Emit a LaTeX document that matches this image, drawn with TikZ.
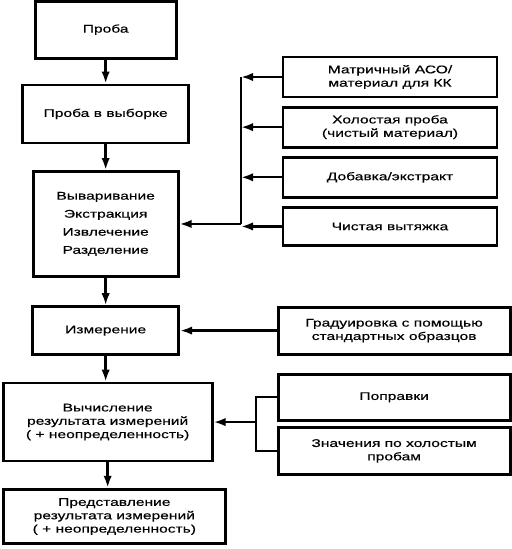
\documentclass[tikz,border=0pt]{standalone}
\usepackage{fontspec}
\setmainfont{Liberation Sans}[FakeStretch=1.4, FakeBold=0.4]
\usetikzlibrary{arrows.meta,positioning}
\tikzset{>={Latex[length=3.6mm,width=2.5mm]}}

\begin{document}
\begin{tikzpicture}[
    box/.style={draw, line width=2.4pt, align=center, inner sep=1pt},
    sidebox/.style={box, minimum width=6.42cm, minimum height=1.2cm},
    every node/.style={font=\fontsize{9.5}{11.4}\selectfont},
    link/.style={line width=2pt},
    node distance=8mm
  ]
    \useasboundingbox (0,0) rectangle (15.36,-16.47);
    % main chain
    \node[box, minimum width=4.23cm, minimum height=1.71cm] (sample) at (3.17,-0.89) {Проба};
    \node[box, minimum width=4.98cm, minimum height=1.74cm, below=7.2mm of sample] (subsample) {Проба в выборке};
    \node[box, minimum width=4.35cm, minimum height=3.15cm, below=7.7mm of subsample] (prep) {Вываривание\\[4pt]Экстракция\\[4pt]Извлечение\\[4pt]Разделение};
    \node[box, minimum width=4.38cm, minimum height=1.44cm, below=8.2mm of prep] (meas) {Измерение};
    \node[box, minimum width=6.27cm, minimum height=2.34cm, below=7.7mm of meas, xshift=0.06cm] (calc) {Вычисление\\результата измерений\\( + неопределенность)};
    \node[box, minimum width=6.66cm, minimum height=1.64cm, below=7.6mm of calc, xshift=0.2cm] (report) {Представление\\результата измерений\\( + неопределенность)};
    % quality control inputs
    \node[sidebox] (matrix) at (11.7,-2.31) {Матричный АСО/\\материал для КК};
    \node[sidebox, below=2.2mm of matrix] (blank) {Холостая проба\\(чистый материал)};
    \node[sidebox, below=2.2mm of blank] (spike) {Добавка/экстракт};
    \node[sidebox, minimum height=1.14cm, below=2.2mm of spike] (extract) {Чистая вытяжка};
    % calibration and corrections
    \node[box, minimum width=6.96cm, minimum height=1.41cm, right=2.9cm of meas] (calib) {Градуировка с помощью\\стандартных образцов};
    \node[box, minimum width=6.96cm, minimum height=1.38cm, below=5.2mm of calib] (corr) {Поправки};
    \node[box, minimum width=6.96cm, minimum height=1.41cm, below=1.3mm of corr] (blankval) {Значения по холостым\\пробам};
    \coordinate (bus) at (7.23,0);
    \coordinate (brace) at (7.68,0);

    \draw[link, ->] (sample) -- (subsample);
    \draw[link, ->] (subsample) -- (prep);
    \draw[link, ->] (prep) -- (meas);
    \draw[link, ->] (meas.south) -- (meas.south |- calc.north);
    \draw[link, ->] (calc.south) -- (calc.south |- report.north);
    \foreach \n in {matrix, blank, spike, extract}
      \draw[link, ->] (\n.west) -- (\n.west -| bus);
    \draw[link] (matrix.west -| bus) -- (bus |- prep.east);
    \draw[link, ->] (bus |- prep.east) -- (prep.east);
    \draw[link, ->] (calib.west) -- (meas.east |- calib.west);
    \draw[link] (corr.west) -- (corr.west -| brace) -- (blankval.west -| brace) -- (blankval.west);
    \draw[link, ->] (brace |- calc.east) -- (calc.east);
  \end{tikzpicture}
\end{document}
